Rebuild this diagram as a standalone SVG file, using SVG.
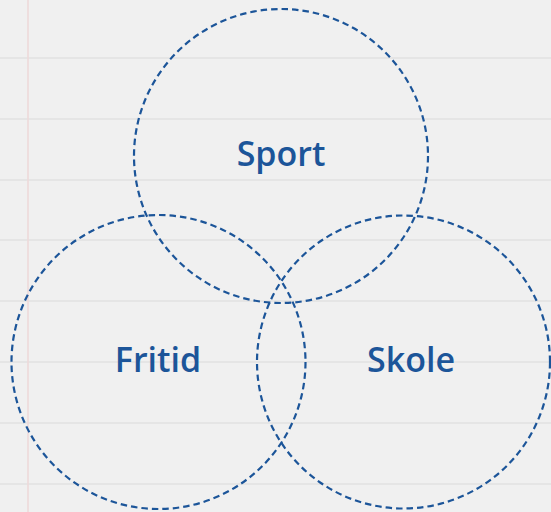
<svg xmlns="http://www.w3.org/2000/svg" width="551" height="512" viewBox="0 0 551 512">
<style>
.rule{stroke:#dadada;stroke-width:1.2}
.c{fill:none;stroke:#1c5599;stroke-width:2.2;stroke-dasharray:6.5 4}
.t{font-family:"Open Sans","Liberation Sans",sans-serif;font-size:34px;font-weight:600;fill:#1c5599;text-anchor:middle}
</style>
<rect width="551" height="512" fill="#f0f0f0"/>
<g id="paper">
<line class="rule" x1="0" y1="58" x2="551" y2="58"/>
<line class="rule" x1="0" y1="119" x2="551" y2="119"/>
<line class="rule" x1="0" y1="180" x2="551" y2="180"/>
<line class="rule" x1="0" y1="240" x2="551" y2="240"/>
<line class="rule" x1="0" y1="301" x2="551" y2="301"/>
<line class="rule" x1="0" y1="362" x2="551" y2="362"/>
<line class="rule" x1="0" y1="423" x2="551" y2="423"/>
<line class="rule" x1="0" y1="484" x2="551" y2="484"/>
<line x1="28" y1="0" x2="28" y2="512" stroke="#eed8d8" stroke-width="1.5"/>
</g>
<g id="sport">
<circle class="c" cx="281" cy="156" r="147"/>
<text class="t" x="281" y="166">Sport</text>
</g>
<g id="fritid">
<circle class="c" cx="158.5" cy="362" r="147"/>
<text class="t" x="158" y="372">Fritid</text>
</g>
<g id="skole">
<circle class="c" cx="403.5" cy="362" r="146.5"/>
<text class="t" x="411" y="372">Skole</text>
</g>
<g id="connectors"/>
</svg>
